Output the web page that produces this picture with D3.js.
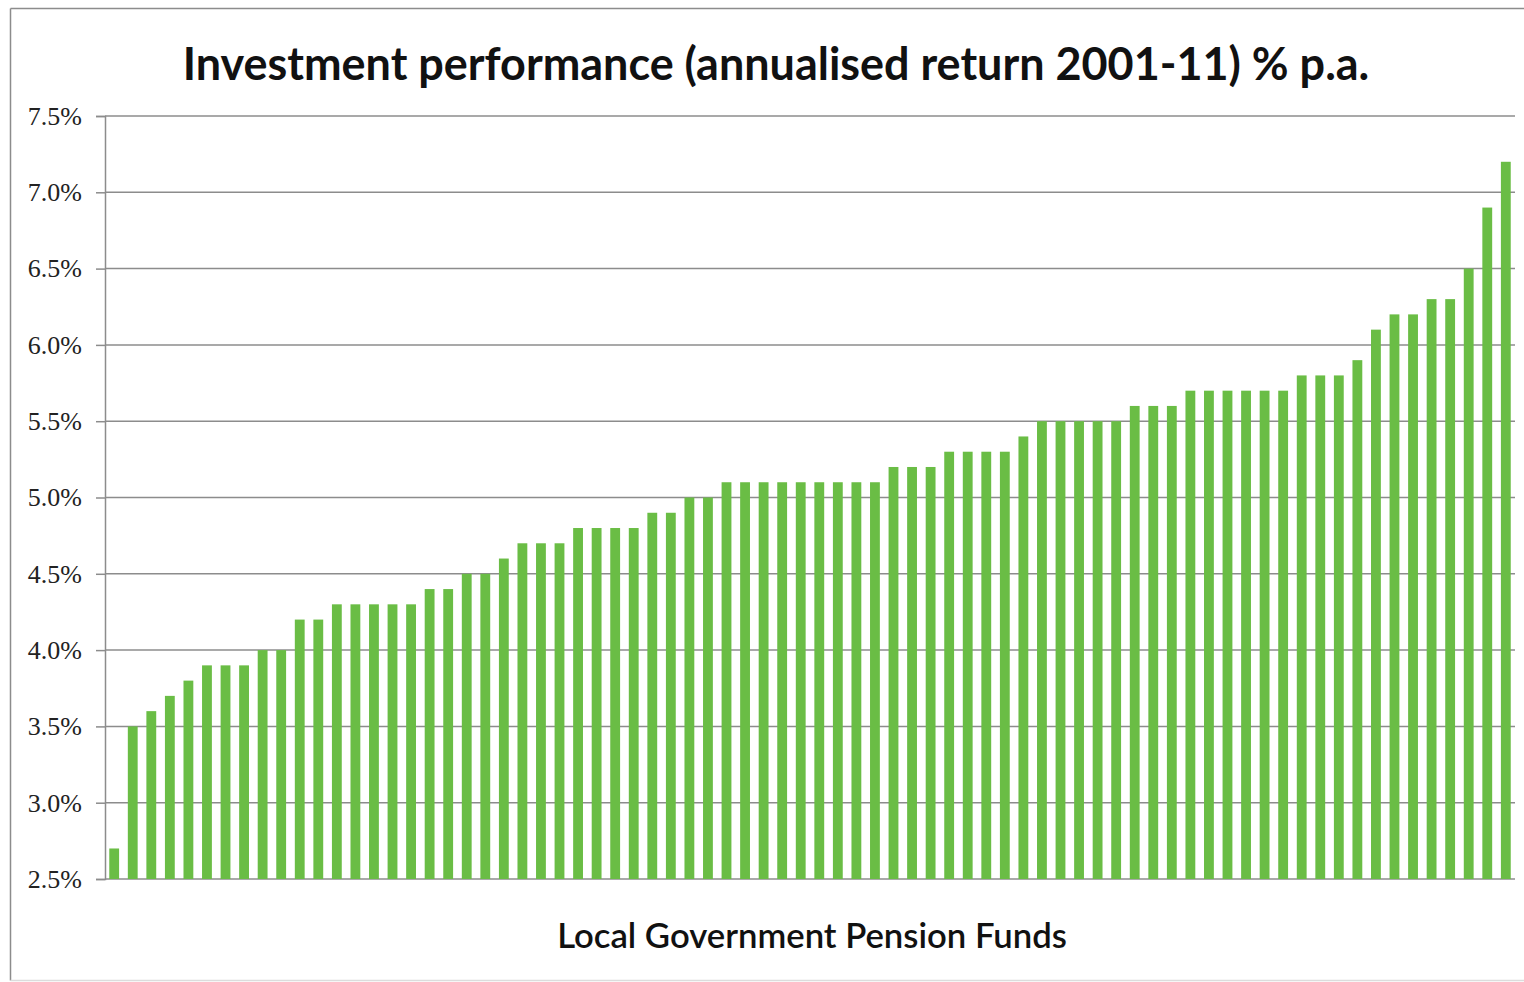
<!DOCTYPE html>
<html>
<head>
<meta charset="utf-8">
<script src="https://cdn.jsdelivr.net/npm/d3@7"></script>
<style>
  body { margin: 0; background: #fff; }
  svg { display: block; }
</style>
</head>
<body>
<div id="chart"></div>
<script>
// annualised return 2001-11, one value per fund, sorted low to high
var returns = [
  2.7, 3.5, 3.6, 3.7, 3.8, 3.9, 3.9, 3.9, 4.0, 4.0,
  4.2, 4.2, 4.3, 4.3, 4.3, 4.3, 4.3, 4.4, 4.4, 4.5,
  4.5, 4.6, 4.7, 4.7, 4.7, 4.8, 4.8, 4.8, 4.8, 4.9,
  4.9, 5.0, 5.0, 5.1, 5.1, 5.1, 5.1, 5.1, 5.1, 5.1,
  5.1, 5.1, 5.2, 5.2, 5.2, 5.3, 5.3, 5.3, 5.3, 5.4,
  5.5, 5.5, 5.5, 5.5, 5.5, 5.6, 5.6, 5.6, 5.7, 5.7,
  5.7, 5.7, 5.7, 5.7, 5.8, 5.8, 5.8, 5.9, 6.1, 6.2,
  6.2, 6.3, 6.3, 6.5, 6.9, 7.2
];
var funds = returns.map(function(d, i) { return "Fund " + (i + 1); });
var yTicks = [2.5, 3.0, 3.5, 4.0, 4.5, 5.0, 5.5, 6.0, 6.5, 7.0, 7.5];
var titleText = "Investment performance (annualised return 2001-11) % p.a.";
var xLabelText = "Local Government Pension Funds";

var W = 1524, H = 982;
var plot = {left: 105, right: 1515, top: 116, bottom: 879};

var svg = d3.select("#chart").append("svg")
    .attr("width", W)
    .attr("height", H);

// outer chart frame (right edge is cut off in the original)
var frame = svg.append("g").attr("stroke", "#8c8c8c").attr("stroke-width", 1.5);
frame.append("line").attr("x1", 10.5).attr("x2", W).attr("y1", 8.5).attr("y2", 8.5);
frame.append("line").attr("x1", 10.5).attr("x2", 10.5).attr("y1", 8.5).attr("y2", 980.5);
frame.append("line").attr("x1", 10.5).attr("x2", W).attr("y1", 980.5).attr("y2", 980.5)
    .attr("stroke", "#dcdcdc");

var x = d3.scaleBand()
    .domain(funds)
    .range([plot.left, plot.right])
    .paddingInner(0.47)
    .paddingOuter(0.23);

var y = d3.scaleLinear()
    .domain([2.5, 7.5])
    .range([plot.bottom, plot.top]);

// y axis
var yAxis = d3.axisLeft(y)
    .tickValues(yTicks)
    .tickFormat(function(d) { return d.toFixed(1) + "%"; })
    .tickSize(9)
    .tickPadding(14);

var gy = svg.append("g")
    .attr("transform", "translate(" + plot.left + ",0)")
    .call(yAxis);
gy.select(".domain").attr("stroke", "#8c8c8c").attr("stroke-width", 1.5);
gy.selectAll(".tick line").attr("stroke", "#8c8c8c").attr("stroke-width", 1.5);
gy.selectAll(".tick text")
    .attr("fill", "#222")
    .style("font-family", "'Liberation Serif', 'DejaVu Serif', serif")
    .style("font-size", "26px");

// gridlines
svg.append("g")
    .selectAll("line")
    .data(yTicks)
    .enter().append("line")
    .attr("x1", plot.left)
    .attr("x2", plot.right)
    .attr("y1", function(d) { return y(d); })
    .attr("y2", function(d) { return y(d); })
    .attr("stroke", "#8c8c8c")
    .attr("stroke-width", 1.5);

// bars
svg.append("g")
    .selectAll("rect")
    .data(returns)
    .enter().append("rect")
    .attr("x", function(d, i) { return x(funds[i]); })
    .attr("width", x.bandwidth())
    .attr("y", function(d) { return y(d); })
    .attr("height", function(d) { return y(2.5) - y(d); })
    .attr("fill", "#6abd45");

// title, fitted to the width of the original
var title = svg.append("text")
    .attr("x", 776)
    .attr("y", 80)
    .attr("text-anchor", "middle")
    .attr("fill", "#111")
    .style("font-family", "Lato, 'Open Sans', sans-serif")
    .style("font-weight", "bold")
    .style("font-size", "46px")
    .text(titleText);
var tw = title.node().getComputedTextLength();
title.style("font-size", (46 * 1187 / tw) + "px");

var xl = svg.append("text")
    .attr("x", 812)
    .attr("y", 948)
    .attr("text-anchor", "middle")
    .attr("fill", "#111")
    .style("font-family", "Lato, 'Open Sans', sans-serif")
    .style("font-weight", "600")
    .style("font-size", "32px")
    .text(xLabelText);
var xw = xl.node().getComputedTextLength();
xl.style("font-size", (32 * 510 / xw) + "px");
</script>
</body>
</html>
